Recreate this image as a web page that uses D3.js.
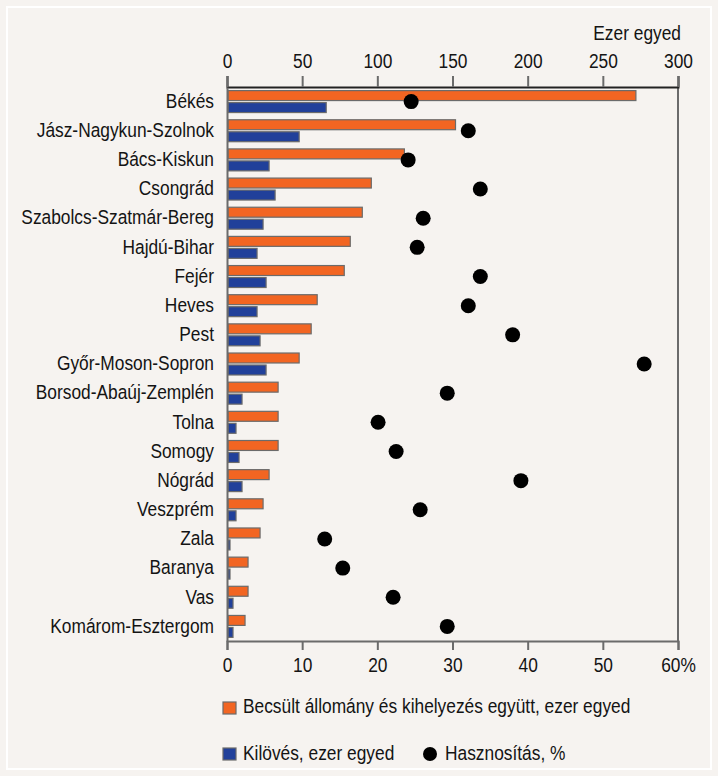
<!DOCTYPE html>
<html><head><meta charset="utf-8">
<script src="https://cdn.jsdelivr.net/npm/d3@7"></script>
<style>
html,body{margin:0;padding:0;background:#f6f3f0;}
svg{display:block;font-family:"Liberation Sans",Arial,sans-serif;}
</style></head>
<body>
<svg id="chart" width="718" height="776"></svg>
<script>
const categories = ["Békés","Jász-Nagykun-Szolnok","Bács-Kiskun","Csongrád","Szabolcs-Szatmár-Bereg","Hajdú-Bihar","Fejér","Heves","Pest","Győr-Moson-Sopron","Borsod-Abaúj-Zemplén","Tolna","Somogy","Nógrád","Veszprém","Zala","Baranya","Vas","Komárom-Esztergom"];
const allomany = [272,152,118,96,90,82,78,60,56,48,34,34,34,28,24,22,14,14,12];
const kiloves  = [66,48,28,32,24,20,26,20,22,26,10,6,8,10,6,2,2,4,4];
const hasznositas = [24.5,32.1,24.1,33.7,26.1,25.3,33.7,32.1,38.0,55.5,29.3,20.1,22.5,39.1,25.7,13.0,15.4,22.1,29.3];
const topTicks = [0,50,100,150,200,250,300];
const bottomTicks = [0,10,20,30,40,50,60];
const topUnit = "Ezer egyed";
const legendLabels = ["Becsült állomány és kihelyezés együtt, ezer egyed","Kilövés, ezer egyed","Hasznosítás, %"];

(function(){
const W = 718, H = 776;
const svg = d3.select("#chart");
const ORANGE = "#f26522", BLUE = "#21409a", GRAY = "#6b6b6b";
const fs = 19.5, SX = 0.89;
const FF = "Liberation Sans, Arial, sans-serif";
const TXT = "#141414";

svg.append("rect").attr("x",7).attr("y",7).attr("width",W-14).attr("height",H-14)
  .attr("fill","#f6f3f0").attr("stroke","#ffffff").attr("stroke-width",2);

const pL = 227, pR = 678, pT = 87, pB = 641;
const xTop = d3.scaleLinear().domain([0,300]).range([pL,pR]);
const xBot = d3.scaleLinear().domain([0,60]).range([pL,pR]);
const y = d3.scaleBand().domain(categories).range([pT,pB]).padding(0);
const sub = d3.scaleBand().domain(["a","b"]).range([0,y.bandwidth()]).paddingInner(0.17).paddingOuter(0.3);

const g = svg.append("g");
categories.forEach((c,i)=>{
  g.append("rect").attr("x",xTop(0)+1).attr("y",y(c)+sub("a"))
    .attr("width",xTop(allomany[i])-xTop(0)-1).attr("height",sub.bandwidth())
    .attr("fill",ORANGE).attr("stroke",GRAY).attr("stroke-width",1.2);
  g.append("rect").attr("x",xTop(0)+1).attr("y",y(c)+sub("b"))
    .attr("width",Math.max(0,xTop(kiloves[i])-xTop(0)-1)).attr("height",sub.bandwidth())
    .attr("fill",BLUE).attr("stroke",GRAY).attr("stroke-width",1.2);
});

svg.append("line").attr("x1",pR).attr("x2",pR).attr("y1",pT).attr("y2",pB).attr("stroke",GRAY).attr("stroke-width",2);

const axTop = svg.append("g").attr("transform",`translate(0,${pT})`)
  .call(d3.axisTop(xTop).tickValues(topTicks).tickSize(11).tickPadding(8.5).tickFormat(d3.format("d")));
axTop.select(".domain").attr("stroke","#222").attr("stroke-width",2);
axTop.selectAll(".tick line").attr("stroke",GRAY).attr("stroke-width",2);

const axBot = svg.append("g").attr("transform",`translate(0,${pB})`)
  .call(d3.axisBottom(xBot).tickValues(bottomTicks).tickSize(9).tickPadding(8).tickFormat(d=> d===60 ? "60%" : d));
axBot.select(".domain").attr("stroke",GRAY).attr("stroke-width",2);
axBot.selectAll(".tick line").attr("stroke",GRAY).attr("stroke-width",2);

const axLeft = svg.append("g").attr("transform",`translate(${pL},0)`)
  .call(d3.axisLeft(y).tickSize(0).tickPadding(13));
axLeft.select(".domain").attr("stroke",GRAY).attr("stroke-width",2);

svg.append("g").selectAll("circle").data(categories).join("circle")
  .attr("cx",(c,i)=>xBot(hasznositas[i])).attr("cy",c=>y(c)+y.bandwidth()/2)
  .attr("r",7.5).attr("fill","#000");

svg.append("text").attr("x",681).attr("y",40.5).attr("text-anchor","end").text(topUnit);

const lg = svg.append("g");
lg.append("rect").attr("x",223).attr("y",702).attr("width",13).attr("height",12).attr("fill",ORANGE).attr("stroke",GRAY).attr("stroke-width",1.2);
lg.append("text").attr("x",243).attr("y",713.5).text(legendLabels[0]);
lg.append("rect").attr("x",223).attr("y",748).attr("width",13).attr("height",12).attr("fill",BLUE).attr("stroke",GRAY).attr("stroke-width",1.2);
lg.append("text").attr("x",243).attr("y",760).text(legendLabels[1]);
lg.append("circle").attr("cx",430).attr("cy",754).attr("r",7).attr("fill","#000");
lg.append("text").attr("x",445).attr("y",760).text(legendLabels[2]);

// uniform condensed text styling
svg.selectAll("text").each(function(){
  const t = d3.select(this);
  const x = +(t.attr("x") || 0);
  t.attr("font-size",fs).attr("font-family",FF).attr("fill",TXT)
   .attr("transform",`translate(${x},0) scale(${SX},1) translate(${-x},0)`);
});
})();
</script>
</body></html>
